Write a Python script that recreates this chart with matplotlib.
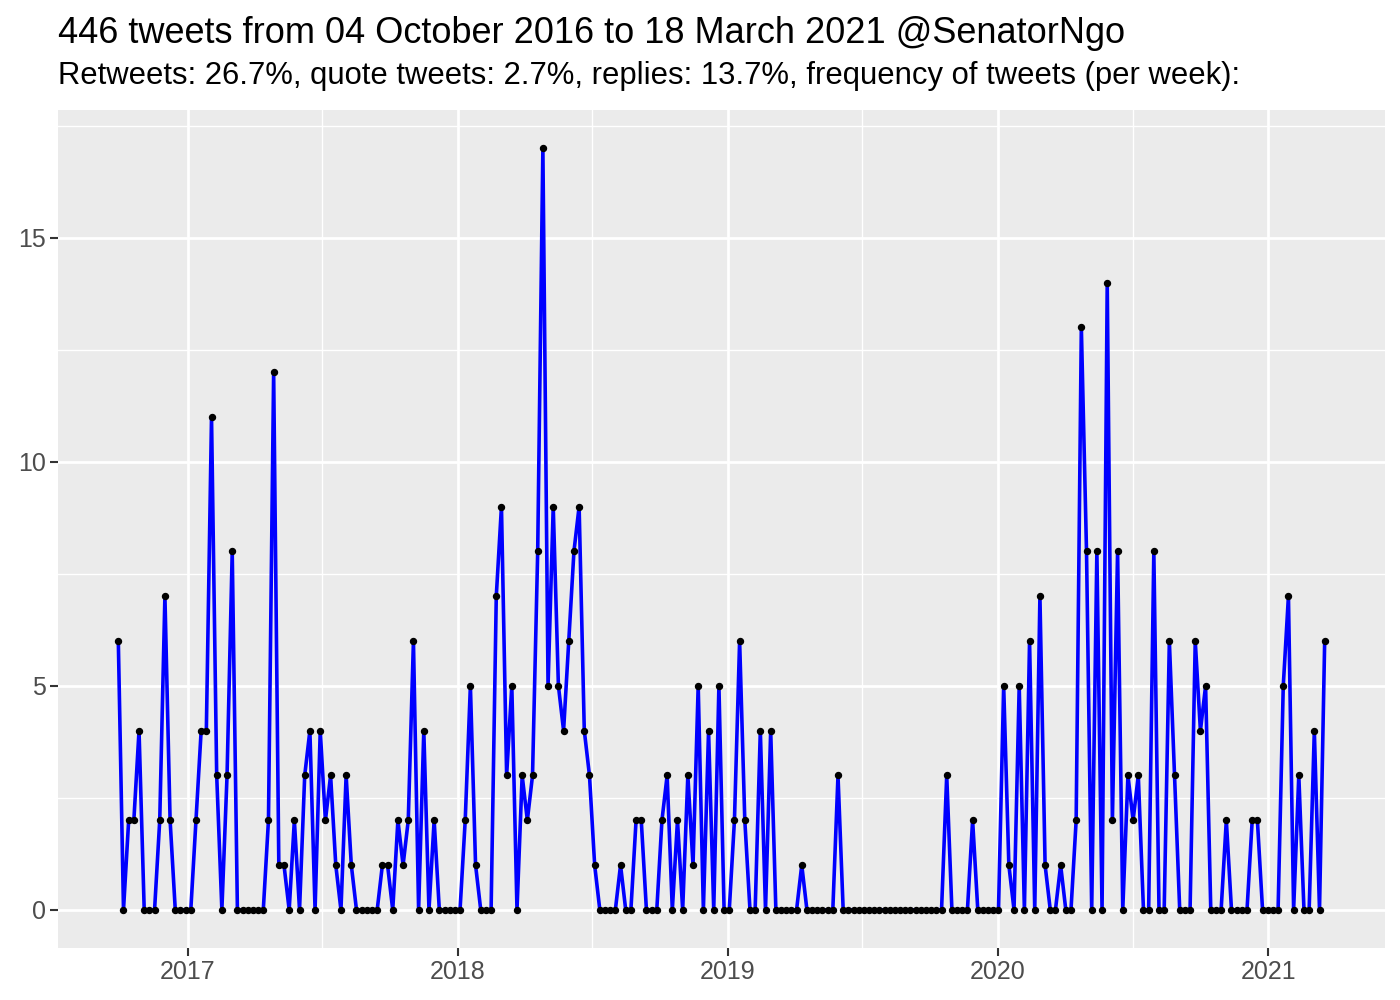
import matplotlib
matplotlib.use("Agg")
import matplotlib.pyplot as plt
import matplotlib.dates as mdates
import pandas as pd

plt.rcParams['font.family'] = ['Liberation Sans', 'DejaVu Sans']

# weekly tweet counts
counts = [6, 0, 2, 2, 4, 0, 0, 0, 2, 7, 2, 0, 0, 0, 0, 2, 4, 4, 11, 3, 0, 3, 8, 0, 0, 0, 0, 0, 0, 2,
          12, 1, 1, 0, 2, 0, 3, 4, 0, 4, 2, 3, 1, 0, 3, 1, 0, 0, 0, 0, 0, 1, 1, 0, 2, 1, 2, 6, 0,
          4, 0, 2, 0, 0, 0, 0, 0, 2, 5, 1, 0, 0, 0, 7, 9, 3, 5, 0, 3, 2, 3, 8, 17, 5, 9, 5, 4, 6, 8,
          9, 4, 3, 1, 0, 0, 0, 0, 1, 0, 0, 2, 2, 0, 0, 0, 2, 3, 0, 2, 0, 3, 1, 5, 0, 4, 0, 5, 0, 0,
          2, 6, 2, 0, 0, 4, 0, 4, 0, 0, 0, 0, 0, 1, 0, 0, 0, 0, 0, 0, 3, 0,
          0, 0, 0, 0, 0, 0, 0, 0, 0, 0, 0, 0, 0, 0, 0, 0, 0, 0, 0,
          3,
          0, 0, 0, 0, 2, 0, 0, 0, 0, 0, 5, 1, 0, 5, 0, 6, 0, 7,
          1, 0, 0, 1, 0, 0, 2, 13, 8, 0, 8, 0, 14, 2, 8, 0, 3, 2, 3, 0, 0, 8, 0, 0, 6, 3, 0, 0, 0,
          6, 4, 5, 0, 0, 0, 2, 0, 0, 0, 0, 2, 2, 0, 0, 0, 0, 5, 7, 0, 3, 0, 0, 4, 0, 6]
weeks = pd.date_range(end="2021-03-18", periods=len(counts), freq="7D")

title = "446 tweets from 04 October 2016 to 18 March 2021 @SenatorNgo"
subtitle = "Retweets: 26.7%, quote tweets: 2.7%, replies: 13.7%, frequency of tweets (per week):"
year_ticks = pd.to_datetime(["2017-01-01", "2018-01-01", "2019-01-01", "2020-01-01", "2021-01-01"])
year_minor = pd.to_datetime(["2017-07-02", "2018-07-02", "2019-07-02", "2020-07-02"])

fig = plt.figure(figsize=(14, 10), dpi=100)
ax = fig.add_axes([58 / 1400, 52 / 1000, 1327 / 1400, 838 / 1000])
ax.set_facecolor('#EBEBEB')
for s in ax.spines.values():
    s.set_visible(False)

ax.plot(weeks, counts, color='blue', linewidth=2.6, zorder=3)
ax.plot(weeks, counts, 'o', color='black', markersize=4.3, zorder=4)

# ggplot style 5% expansion
span = weeks[-1] - weeks[0]
ax.set_xlim(weeks[0] - span * 0.05, weeks[-1] + span * 0.05)
ax.set_ylim(-0.85, 17.85)

ax.set_yticks([0, 5, 10, 15])
ax.set_yticks([2.5, 7.5, 12.5, 17.5], minor=True)
ax.set_xticks(year_ticks)
ax.set_xticks(year_minor, minor=True)
ax.xaxis.set_major_formatter(mdates.DateFormatter('%Y'))

ax.grid(True, which='major', color='white', linewidth=2.0)
ax.grid(True, which='minor', color='white', linewidth=1.0)
ax.set_axisbelow(True)
ax.tick_params(which='major', length=5.5, width=1.5, color='#333333',
               labelcolor='#4D4D4D', labelsize=18, pad=3)
ax.tick_params(which='minor', length=0)

fig.text(58 / 1400, 1 - 43 / 1000, title, fontsize=26, va='baseline', ha='left')
fig.text(58 / 1400, 1 - 84 / 1000, subtitle, fontsize=22.3, va='baseline', ha='left')

fig.savefig("out.png", dpi=100, facecolor='white')
